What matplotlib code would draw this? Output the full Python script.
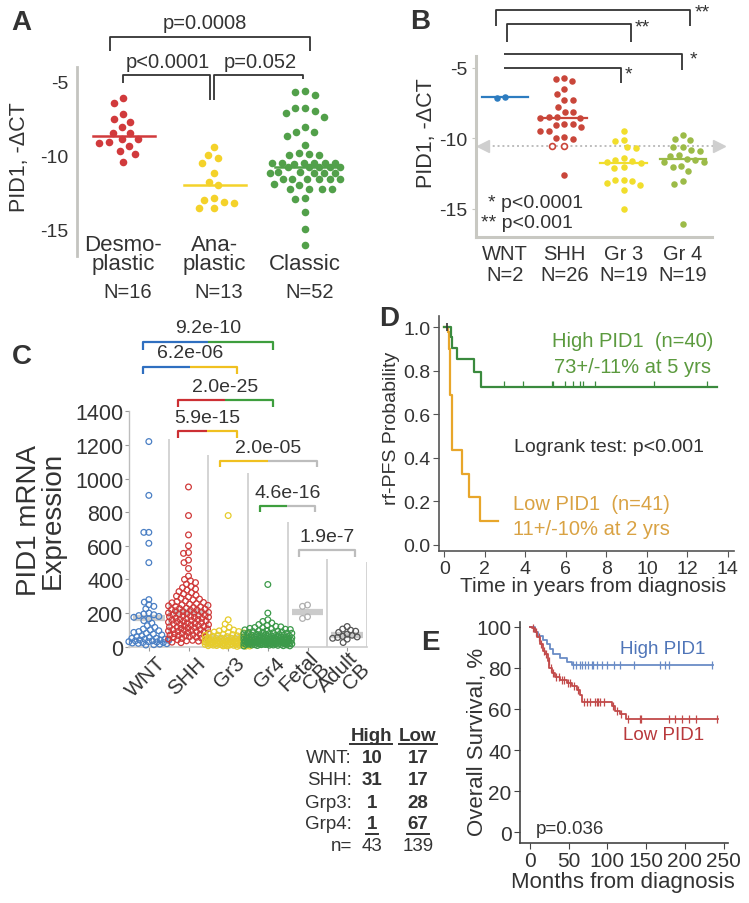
import numpy as np
import matplotlib
matplotlib.use('Agg')
import matplotlib.pyplot as plt
import matplotlib.transforms as mtrans
from matplotlib.lines import Line2D

plt.rcParams['font.family'] = ['Liberation Sans', 'DejaVu Sans']
plt.rcParams['axes.unicode_minus'] = False

# ---------------- data ----------------
# A: PID1 -dCT by histology
a_labels = ['Desmo-\nplastic', 'Ana-\nplastic', 'Classic']
a_n = ['N=16', 'N=13', 'N=52']
a_desmo = [-6.17, -6.51, -7.25, -7.54, -7.74, -8.10, -8.48, -8.48, -8.89, -8.89,
           -9.11, -9.20, -9.38, -9.72, -9.94, -10.46]
a_ana = [-9.45, -10.01, -10.17, -10.57, -11.22, -11.79, -12.01, -12.93, -13.04,
         -13.16, -13.25, -13.61, -13.61]
a_classic = [-5.70, -5.74, -5.94, -6.82, -6.82, -7.02, -7.13, -7.40, -8.10, -8.42,
             -8.44, -8.71, -9.31, -9.83, -9.94, -9.97, -10.01, -10.52, -10.55, -10.55,
             -10.56, -10.55, -10.58, -10.55, -10.78, -10.80, -10.82, -10.80, -10.81,
             -11.16, -11.18, -11.20, -11.18, -11.19, -11.17, -11.60, -11.63, -11.65,
             -11.63, -11.62, -11.64, -11.95, -11.99, -12.28, -12.30, -12.32, -12.30,
             -12.93, -12.98, -13.88, -15.00, -16.08]
a_pvals = ['p=0.0008', 'p<0.0001', 'p=0.052']

# B: PID1 -dCT by subgroup
b_labels = ['WNT', 'SHH', 'Gr 3', 'Gr 4']
b_n = ['N=2', 'N=26', 'N=19', 'N=19']
b_wnt = [-7.10, -7.07]
b_shh = [-5.71, -5.78, -5.95, -6.51, -6.82, -7.29, -7.29, -7.74, -8.14, -8.14,
         -8.48, -8.50, -8.52, -8.52, -8.99, -9.08, -8.99, -9.20, -9.44, -9.44,
         -9.96, -10.03, -9.87, -12.60]
b_shh_open = [-10.51, -10.51]
b_gr3 = [-9.44, -10.08, -10.18, -10.63, -10.70, -11.41, -11.52, -11.69, -11.76,
         -11.57, -12.05, -12.12, -12.92, -12.92, -12.99, -13.16, -13.27, -13.65, -15.02]
b_gr4 = [-9.75, -10.04, -10.11, -10.63, -10.63, -10.79, -10.86, -11.17, -11.26,
         -11.45, -11.55, -11.66, -11.66, -11.93, -12.00, -12.30, -13.00, -13.20, -16.10]
b_ref = -10.55

# C: PID1 mRNA expression
c_labels = ['WNT', 'SHH', 'Gr3', 'Gr4', 'Fetal\nCB', 'Adult\nCB']
c_wnt = [1220, 900, 680, 680, 615, 500, 280, 265, 250, 240, 225, 200, 195, 190, 185,
         180, 175, 165, 155, 140, 125, 115, 105, 100, 95, 90, 85, 80, 75, 70, 65, 60,
         55, 50, 50, 45, 45, 40, 40, 38, 35, 35, 30, 30, 28, 25, 25, 22, 20, 18, 15, 12, 10]
c_shh = [950, 780, 665, 600, 560, 555, 515, 500, 465, 420, 400, 392, 381, 372, 358,
         351, 343, 337, 328, 321, 314, 306, 301, 296, 288, 283, 279, 272, 268, 263, 261,
         256, 253, 249, 246, 243, 239, 236, 233, 229, 227, 224, 221, 218, 216, 213, 209,
         207, 204, 201, 199, 196, 193, 191, 187, 186, 183, 181, 178, 176, 174, 171, 169,
         166, 163, 161, 158, 156, 153, 151, 149, 146, 143, 141, 139, 136, 133, 131, 129,
         126, 123, 121, 118, 116, 113, 111, 109, 106, 103, 101, 99, 96, 94, 91, 89, 87,
         84, 81, 79, 77, 74, 71, 69, 66, 64, 61, 59, 56, 54, 51, 49, 46, 43, 41, 38, 35,
         33, 30, 27, 24]
c_gr3 = [780, 160, 135, 115, 104, 99, 94, 90, 87, 85, 82, 79, 77, 74, 72, 69, 67, 65,
         62, 60, 58, 56, 55, 53, 51, 50, 48, 47, 45, 44, 42, 41, 40, 39, 38, 37, 36, 35,
         34, 33, 32, 31, 30, 30, 29, 28, 27, 27, 26, 25, 25, 24, 23, 22, 22, 21, 20, 19,
         19, 18, 17, 17, 16, 15, 15, 14, 13, 12, 12, 11, 10, 10, 9, 8, 8, 7, 6, 5, 5, 4,
         3, 2]
c_gr4 = [370, 200, 160, 150, 141, 132, 126, 121, 118, 114, 112, 109, 107, 104, 102,
         100, 97, 95, 93, 90, 88, 86, 85, 83, 81, 80, 78, 77, 75, 74, 72, 71, 69, 68, 67,
         66, 64, 63, 62, 61, 60, 59, 58, 57, 56, 55, 54, 53, 52, 51, 50, 49, 48, 47, 46,
         45, 45, 44, 43, 42, 42, 41, 40, 40, 39, 38, 38, 37, 36, 36, 35, 35, 34, 33, 33,
         32, 32, 31, 30, 30, 29, 29, 28, 28, 27, 27, 26, 26, 25, 25, 24, 24, 23, 23, 22,
         22, 21, 21, 20, 20, 19, 19, 18, 18, 17, 17, 16, 16, 15, 15, 14, 14, 13, 12, 12,
         11, 10, 10, 9, 8, 7, 6, 5, 4]
c_fetal = [248, 240, 178, 168]
c_adult = [120, 105, 98, 92, 85, 75, 68, 62, 58, 55, 50, 45, 25]
c_pvals = ['9.2e-10', '6.2e-06', '2.0e-25', '5.9e-15', '2.0e-05', '4.6e-16', '1.9e-7']

# D: rf-PFS Kaplan-Meier (years)
d_hi_t = [0, 0.33, 0.40, 0.64, 1.47, 1.81, 13.45]
d_hi_s = [1.0, 0.954, 0.903, 0.854, 0.793, 0.726, 0.726]
d_hi_cens = [2.95, 3.9, 5.3, 5.38, 5.96, 6.37, 6.7, 6.87, 7.46, 10.33, 12.96]
d_lo_t = [0, 0.20, 0.24, 0.28, 0.36, 0.86, 1.23, 1.76, 2.67]
d_lo_s = [1.0, 0.976, 0.90, 0.69, 0.437, 0.326, 0.221, 0.109, 0.109]

# E: overall survival (months)
e_hi_t = [0, 6.5, 10.8, 16.4, 21.6, 25.9, 30.2, 38.8, 47.4, 53.9, 237]
e_hi_s = [100, 97.2, 95.6, 93.4, 91.5, 89.0, 86.6, 84.9, 83.0, 81.3, 81.3]
e_hi_cens = [56, 60, 64, 67, 71, 75, 80, 82, 86, 93, 99, 108, 116, 134, 168, 175, 179, 235]
e_lo_t = [0, 2.2, 6.5, 9.5, 12.9, 16.4, 19.4, 22.8, 25, 28, 32.3, 38.8, 47.4, 53.9,
          60.3, 64.7, 67.7, 105.6, 110, 116, 124, 243]
e_lo_s = [100, 99.5, 97.2, 94.8, 91.5, 88.2, 86.6, 83.3, 80, 77.5, 75.4, 74.3, 72.6,
          71, 69.3, 66.9, 63.5, 61.5, 59, 57.5, 55, 55]
e_lo_cens = [4, 8, 11, 14, 18, 21, 24, 27, 30, 34, 37, 41, 44, 49, 52, 57, 62, 70, 74,
             78, 84, 86, 88, 90, 95, 107, 112, 118, 127, 142, 144, 179, 187, 196, 205,
             214, 242]

# table
t_rows = ['WNT:', 'SHH:', 'Grp3:', 'Grp4:']
t_high = [10, 31, 1, 1]
t_low = [17, 17, 28, 67]
t_n = [43, 139]

# ---------------- helpers ----------------
W, H = 749, 904
fig = plt.figure(figsize=(W / 100, H / 100), dpi=100)
TXT = '#333333'


def box(l, t, r, b):
    return fig.add_axes([l / W, 1 - b / H, (r - l) / W, (b - t) / H])


def ftext(x, y, s, **kw):
    kw.setdefault('color', TXT)
    return fig.text(x / W, 1 - y / H, s, **kw)


def fline(xs, ys, **kw):
    fig.add_artist(Line2D([x / W for x in xs], [1 - y / H for y in ys], **kw))


def swarm(vals, px_per_unit, dist, maxw=150, step=0.5):
    """x offsets (pixels) so points sit side by side; clamps to maxw"""
    ys = np.asarray(vals, float) * px_per_unit
    xs = np.zeros(len(ys))
    cands = np.arange(-maxw, maxw + step, step)
    cands = cands[np.argsort(np.abs(cands), kind='stable')]
    px, py = [], []
    for i in np.argsort(-ys, kind='stable'):
        x = 0.0
        if px:
            pa, ya = np.array(px), np.array(py)
            near = np.abs(ya - ys[i]) < dist
            if near.any():
                dx = cands[:, None] - pa[near][None, :]
                dy = (ya[near] - ys[i])[None, :]
                d = np.sqrt(dx ** 2 + dy ** 2).min(axis=1)
                ok = d >= dist
                x = cands[np.argmax(ok)] if ok.any() else cands[np.argmax(d)]
        xs[i] = x
        px.append(x)
        py.append(ys[i])
    return xs


def bracket(ax, x1, x2, y, y1, y2, c1='#333333', c2=None, lw=1.3):
    c2 = c2 or c1
    xm = (x1 + x2) / 2
    ax.plot([x1, x1, xm], [y1, y, y], color=c1, lw=lw, clip_on=False, solid_capstyle='butt')
    ax.plot([xm, x2, x2], [y, y, y2], color=c2, lw=lw, clip_on=False, solid_capstyle='butt')


# ---------------- panel A ----------------
axA = box(77, 68, 350, 257)
axA.set_xlim(-0.505, 2.49)
axA.set_ylim(-16.82, -4.05)
a_cols = ['#d13a3c', '#f4d22a', '#52a04a']
for i, (vals, c) in enumerate(zip([a_desmo, a_ana, a_classic], a_cols)):
    off = swarm(vals, 14.8, 10.0, maxw=35) / 91
    axA.scatter(i + off, vals, s=30, color=c, lw=0, zorder=3, clip_on=False)
    m = np.median(vals)
    axA.plot([i - 0.33, i + 0.35], [m, m], color=c, lw=1.8, zorder=4)
for s in ['top', 'right', 'bottom']:
    axA.spines[s].set_visible(False)
axA.spines['left'].set_color('#c4c4c0')
axA.spines['left'].set_linewidth(2)
axA.set_xticks([])
axA.set_yticks([-5, -10, -15])
axA.set_yticklabels(['-5', '-10', '-15'], fontsize=14, color=TXT)
axA.tick_params(axis='y', length=0, pad=6)
for i, (lab, n) in enumerate(zip(a_labels, a_n)):
    lines = lab.split('\n')
    axA.text(i, -17.36, lines[-1], ha='center', va='center', fontsize=16, color=TXT, clip_on=False)
    if len(lines) > 1:
        axA.text(i, -16.01, lines[0], ha='center', va='center', fontsize=16, color=TXT, clip_on=False)
    axA.text(i + 0.05, -19.19, n, ha='center', va='center', fontsize=14.5, color=TXT, clip_on=False)
bracket(axA, -0.14, 2.05, -2.03, -2.97, -2.97)
bracket(axA, 0.0, 0.956, -4.59, -5.14, -6.28)
bracket(axA, 1.0, 1.97, -4.59, -6.28, -4.86)
axA.text(0.90, -1.01, a_pvals[0], ha='center', va='center', fontsize=14.5, color=TXT)
axA.text(0.49, -3.65, a_pvals[1], ha='center', va='center', fontsize=14.5, color=TXT)
axA.text(1.50, -3.65, a_pvals[2], ha='center', va='center', fontsize=14.5, color=TXT)
ftext(20, 157, 'PID1, -ΔCT', rotation=90, ha='center', va='center', fontsize=15.5)
ftext(21, 23, 'A', ha='center', va='center', fontsize=20, fontweight='bold')

# ---------------- panel B ----------------
axB = box(476, 57, 712, 238)
axB.set_xlim(-0.489, 3.49)
axB.set_ylim(-16.99, -4.15)
b_cols = ['#2d7cc0', '#c9463a', '#f1de2c', '#9cbb48']
axB.plot([-0.37, 3.61], [b_ref, b_ref], ls=(0, (1, 1.5)), color='#bdbdbd', lw=1.4,
         clip_on=False, zorder=2)
axB.plot([-0.37], [b_ref], marker='<', ms=9, color='#cfcfcf', clip_on=False, lw=0)
axB.plot([3.61], [b_ref], marker='>', ms=9, color='#cfcfcf', clip_on=False, lw=0)
groups_b = [b_wnt, b_shh + b_shh_open, b_gr3, b_gr4]
for i, (vals, c) in enumerate(zip(groups_b, b_cols)):
    off = swarm(vals, 14.1, 8.5) / 59.3
    is_open = np.zeros(len(vals), bool)
    if i == 1:
        is_open[len(b_shh):] = True
    x = i + off
    v = np.asarray(vals)
    axB.scatter(x[~is_open], v[~is_open], s=22, color=c, lw=0, zorder=3, clip_on=False)
    if is_open.any():
        axB.scatter(x[is_open], v[is_open], s=18, facecolor='white', edgecolor=c, lw=1.2, zorder=3)
    m = np.median(vals)
    axB.plot([i - 0.39, i + 0.39], [m, m], color=c, lw=1.6, zorder=4)
for s in ['top', 'right']:
    axB.spines[s].set_visible(False)
for s in ['left', 'bottom']:
    axB.spines[s].set_color('#c8c8c2')
    axB.spines[s].set_linewidth(2.2)
axB.set_xticks([])
axB.set_yticks([-5, -10, -15])
axB.set_yticklabels(['-5', '-10', '-15'], fontsize=14, color=TXT)
axB.tick_params(axis='y', length=3, color='#c8c8c2', pad=3)
for i, (lab, n) in enumerate(zip(b_labels, b_n)):
    axB.text(i, -18.19, lab, ha='center', va='center', fontsize=14.5, color=TXT, clip_on=False)
    axB.text(i, -19.68, n, ha='center', va='center', fontsize=14.5, color=TXT, clip_on=False)
bracket(axB, -0.15, 3.12, -0.89, -2.02, -2.02)
bracket(axB, 0.03, 2.12, -1.88, -3.16, -3.16)
bracket(axB, -0.01, 2.98, -4.01, -4.01, -5.14)
bracket(axB, -0.01, 1.95, -5.0, -5.0, -6.06)
axB.text(3.33, -1.05, '**', ha='center', va='center', fontsize=14, color=TXT, clip_on=False)
axB.text(2.32, -2.1, '**', ha='center', va='center', fontsize=14, color=TXT, clip_on=False)
axB.text(3.17, -4.35, '*', ha='center', va='center', fontsize=14, color=TXT, clip_on=False)
axB.text(2.08, -5.45, '*', ha='center', va='center', fontsize=14, color=TXT, clip_on=False)
ftext(488, 204, '* p<0.0001', ha='left', va='center', fontsize=14)
ftext(481, 224, '** p<0.001', ha='left', va='center', fontsize=14)
ftext(427, 133, 'PID1, -ΔCT', rotation=90, ha='center', va='center', fontsize=15.5)
ftext(420, 22, 'B', ha='center', va='center', fontsize=20, fontweight='bold')

# ---------------- panel C ----------------
axC = box(129, 412.3, 367, 647.7)
axC.set_xlim(-0.5, 5.5)
axC.set_ylim(0, 1400)
c_cols = ['#4a7fc4', '#d03a3a', '#e6cc2c', '#3c9a4a', '#b0b0b0', '#555555']
groups_c = [c_wnt, c_shh, c_gr3, c_gr4, c_fetal, c_adult]
sep_tops = [1236, 1141, 1034, 740, 522, 502]
axC.vlines(np.arange(6) + 0.5, 0, sep_tops, color='#cdcdcd', lw=1.2)
c_maxw = [20, 20, 23, 24, 16, 16]
for i, (vals, c) in enumerate(zip(groups_c, c_cols)):
    off = swarm(vals, 0.1682, 5.0, maxw=c_maxw[i]) / 39.7
    axC.scatter(i + off, vals, s=17, facecolor='none', edgecolor=c, lw=0.9, zorder=3,
                clip_on=False)
    m = np.mean(vals)
    axC.plot([i - 0.4, i + 0.4], [m, m], color='#c6c6c6', lw=4.5, alpha=0.9, zorder=2.5,
             solid_capstyle='butt')
for s in ['top', 'right']:
    axC.spines[s].set_visible(False)
axC.spines['left'].set_color('#bdbdbd')
axC.spines['bottom'].set_color('#cdcdcd')
axC.spines['left'].set_linewidth(1)
axC.spines['bottom'].set_linewidth(1.2)
axC.set_yticks(np.arange(0, 1401, 200))
axC.set_yticklabels([str(v) for v in range(0, 1401, 200)], fontsize=15.5, color=TXT)
axC.tick_params(axis='y', length=3, color='#999999', pad=1)
axC.set_xticks(np.arange(6))
axC.set_xticklabels(c_labels, rotation=45, ha='right', va='center', rotation_mode='anchor',
                    fontsize=15, color=TXT)
axC.tick_params(axis='x', length=3, color='#999999', pad=2)
shift = mtrans.ScaledTranslation(0.135, -0.06, fig.dpi_scale_trans)
for lab in axC.get_xticklabels():
    lab.set_transform(lab.get_transform() + shift)
    lab.set_linespacing(0.8)
BL, RD, YL, GN, GY = '#2f6fc0', '#cc2f33', '#f0c020', '#3e9e3e', '#bdbdbd'
c_br = [(-0.15, 3.12, 1814, 1765, BL, GN),
        (-0.15, 2.22, 1665, 1623, BL, YL),
        (0.73, 3.12, 1468, 1426, RD, GN),
        (0.73, 2.22, 1284, 1242, RD, YL),
        (1.79, 4.23, 1105, 1070, YL, GY),
        (2.80, 4.18, 837, 801, GN, GY),
        (3.78, 5.21, 576, 534, GY, GY)]
for (x1, x2, y, y0, c1, c2), p in zip(c_br, c_pvals):
    bracket(axC, x1, x2, y, y0, y0, c1, c2, lw=1.6)
    axC.text((x1 + x2) / 2, y + 82, p, ha='center', va='center', fontsize=14, color=TXT,
             clip_on=False)
ftext(41, 520, 'PID1 mRNA\nExpression', rotation=90, ha='center', va='center',
      fontsize=20, linespacing=0.85)
ftext(22, 357, 'C', ha='center', va='center', fontsize=20, fontweight='bold')

# ---------------- panel D ----------------
axD = box(439, 316.7, 734, 552.3)
axD.set_xlim(-0.26, 14.3)
axD.set_ylim(-0.03, 1.053)
axD.step(d_lo_t, d_lo_s, where='post', color='#e8a62a', lw=1.6)
axD.step(d_hi_t, d_hi_s, where='post', color='#3a8a3e', lw=1.6)
cs = np.array(d_hi_s)[np.searchsorted(d_hi_t, d_hi_cens, side='right') - 1]
axD.plot(d_hi_cens, cs + 0.012, ls='none', marker='|', ms=5, mew=0.9, color='#3a8a3e')
axD.plot([0.12], [1.0], ls='none', marker='|', ms=6, mew=1.2, color='#333333')
for s in ['top', 'right']:
    axD.spines[s].set_visible(False)
for s in ['left', 'bottom']:
    axD.spines[s].set_color('#555555')
    axD.spines[s].set_linewidth(1.2)
axD.set_xticks(np.arange(0, 15, 2))
axD.set_xticklabels([str(v) for v in range(0, 15, 2)], fontsize=14, color=TXT)
axD.set_yticks(np.arange(0, 1.01, 0.2))
axD.set_yticklabels(['%.1f' % v for v in np.arange(0, 1.01, 0.2)], fontsize=14, color=TXT)
axD.tick_params(length=4, color='#555555', pad=2)
axD.text(9.3, 0.94, 'High PID1  (n=40)', ha='center', va='center', fontsize=14.5,
         color='#5b9a3e')
axD.text(9.3, 0.82, '73+/-11% at 5 yrs', ha='center', va='center', fontsize=14.5,
         color='#5b9a3e')
axD.text(8.15, 0.45, 'Logrank test: p<0.001', ha='center', va='center', fontsize=14,
         color=TXT)
axD.text(3.4, 0.19, 'Low PID1  (n=41)', ha='left', va='center', fontsize=14.5,
         color='#d9a243')
axD.text(3.4, 0.075, '11+/-10% at 2 yrs', ha='left', va='center', fontsize=14.5,
         color='#d9a243')
ftext(593, 587, 'Time in years from diagnosis', ha='center', va='center', fontsize=15)
ftext(392, 428, 'rf-PFS Probability', rotation=90, ha='center', va='center', fontsize=14)
ftext(389, 319, 'D', ha='center', va='center', fontsize=20, fontweight='bold')

# ---------------- panel E ----------------
axE = box(520, 623, 727.7, 844)
axE.set_xlim(-12.9, 255.4)
axE.set_ylim(-5.2, 102.3)
axE.step(e_hi_t, e_hi_s, where='post', color='#6a8cc6', lw=1.3)
axE.step(e_lo_t, e_lo_s, where='post', color='#c24a4a', lw=1.3)
for t, s, cens, c in [(e_hi_t, e_hi_s, e_hi_cens, '#6a8cc6'),
                      (e_lo_t, e_lo_s, e_lo_cens, '#c24a4a')]:
    cs = np.array(s)[np.searchsorted(t, cens, side='right') - 1]
    axE.plot(cens, cs, ls='none', marker='|', ms=6, mew=0.9, color=c)
for s in ['top', 'right']:
    axE.spines[s].set_visible(False)
for s in ['left', 'bottom']:
    axE.spines[s].set_color('#444444')
    axE.spines[s].set_linewidth(1.2)
axE.set_xticks(np.arange(0, 251, 50))
axE.set_xticklabels([str(v) for v in range(0, 251, 50)], fontsize=15, color=TXT)
axE.set_yticks(np.arange(0, 101, 20))
axE.set_yticklabels([str(v) for v in range(0, 101, 20)], fontsize=15, color=TXT)
axE.tick_params(length=4, color='#444444', pad=2)
axE.text(171, 89.5, 'High PID1', ha='center', va='center', fontsize=13.5, color='#4f75b8')
axE.text(225, 47.5, 'Low PID1', ha='right', va='center', fontsize=13.5, color='#b8393c')
axE.text(7, 2, 'p=0.036', ha='left', va='center', fontsize=13.5, color=TXT)
ftext(623, 883, 'Months from diagnosis', ha='center', va='center', fontsize=16)
ftext(477, 742, 'Overall Survival, %', rotation=90, ha='center', va='center', fontsize=16)
ftext(430, 643, 'E', ha='center', va='center', fontsize=20, fontweight='bold')

# ---------------- table ----------------
ftext(371, 737, 'High', ha='center', va='center', fontsize=13.5, fontweight='bold')
ftext(418, 737, 'Low', ha='center', va='center', fontsize=13.5, fontweight='bold')
fline([350, 392], [745, 745], color=TXT, lw=1.4)
fline([399, 437], [745, 745], color=TXT, lw=1.4)
row_y = [759, 780.7, 803.3, 825]
for lab, hi, lo, y in zip(t_rows, t_high, t_low, row_y):
    ftext(352, y, lab, ha='right', va='center', fontsize=13.5)
    ftext(372, y, str(hi), ha='center', va='center', fontsize=13.5, fontweight='bold')
    ftext(418, y, str(lo), ha='center', va='center', fontsize=13.5, fontweight='bold')
fline([366, 378], [835, 835], color=TXT, lw=1.4)
fline([407, 429], [835, 835], color=TXT, lw=1.4)
ftext(352, 847, 'n=', ha='right', va='center', fontsize=13.5)
ftext(372, 847, str(t_n[0]), ha='center', va='center', fontsize=13.5)
ftext(418, 847, str(t_n[1]), ha='center', va='center', fontsize=13.5)

fig.savefig('out.png', dpi=100)
